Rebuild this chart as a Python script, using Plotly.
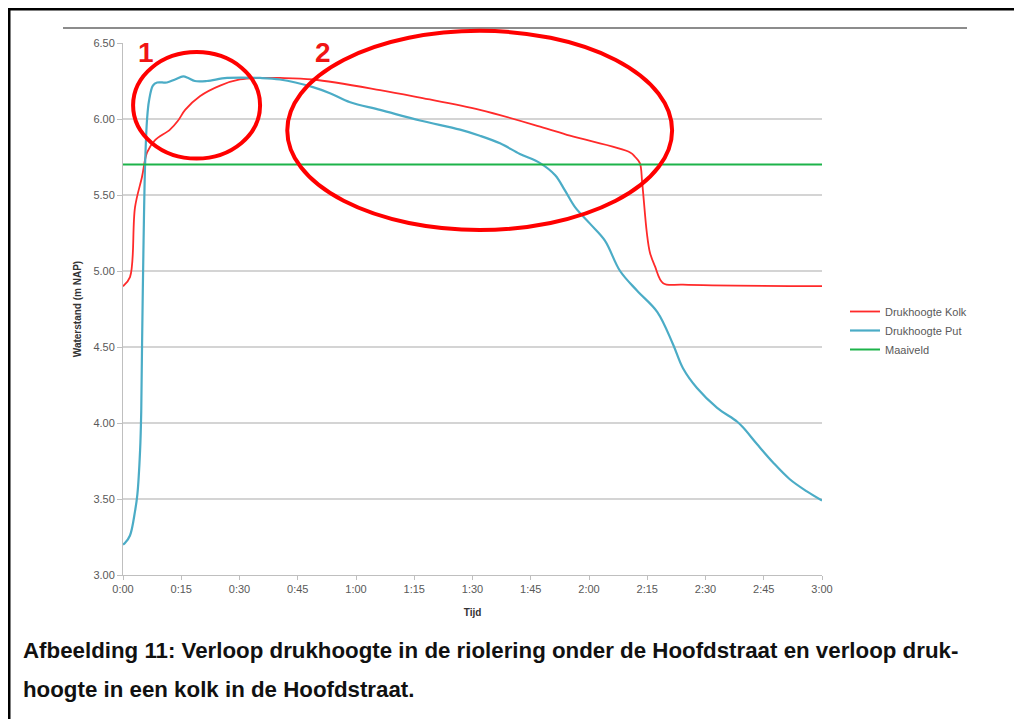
import plotly.graph_objects as go

# ---- data (time in minutes since 0:00, values in m NAP) ----
kolk_t = [0, 1.8, 3.1, 4.9, 6.2, 8.2, 12.1, 14.2, 16.0, 19.8, 25.0, 30.1, 35.3, 40.4, 48.9,
          66.2, 76.5, 91.9, 107.4, 115.1, 130.6, 131.9, 133.1, 133.7, 134.9, 135.7, 137.0,
          139.1, 144.2, 180]
kolk_v = [4.90, 4.96, 5.42, 5.62, 5.78, 5.86, 5.93, 5.99, 6.06, 6.15, 6.22, 6.26, 6.27, 6.27, 6.26,
          6.19, 6.14, 6.06, 5.95, 5.89, 5.78, 5.75, 5.71, 5.58, 5.25, 5.12, 5.03,
          4.92, 4.91, 4.90]

put_t = [0, 0.5, 1.8, 3.1, 3.7, 4.4, 4.7, 4.9, 5.3, 5.7, 6.2, 6.7, 7.7, 8.8, 11.3, 13.4, 15.5,
         16.8, 18.5, 21.6, 26.8, 35.3, 40.4, 48.9, 53.3, 58.5, 66.2, 76.5, 86.8, 91.9, 97.1,
         102.2, 107.4, 111.3, 113.8, 116.4, 120.3, 124.1, 128.0, 132.4, 137.6, 141.6, 144.2,
         147.8, 153.0, 158.1, 159.7, 163.3, 167.4, 171.7, 176.1, 180]
put_v = [3.20, 3.21, 3.26, 3.42, 3.53, 3.82, 4.08, 4.50, 5.20, 5.71, 6.00, 6.12, 6.22, 6.24, 6.24,
         6.26, 6.28, 6.27, 6.25, 6.25, 6.27, 6.27, 6.26, 6.21, 6.17, 6.11, 6.06, 5.99, 5.93,
         5.89, 5.84, 5.77, 5.71, 5.63, 5.53, 5.42, 5.31, 5.20, 5.00, 4.87, 4.73, 4.52, 4.36,
         4.23, 4.10, 4.01, 3.97, 3.86, 3.74, 3.63, 3.55, 3.49]

maaiveld_t = [0, 180]
maaiveld_v = [5.70, 5.70]

x_tickvals = [0, 15, 30, 45, 60, 75, 90, 105, 120, 135, 150, 165, 180]
x_ticktext = ["0:00", "0:15", "0:30", "0:45", "1:00", "1:15", "1:30", "1:45",
              "2:00", "2:15", "2:30", "2:45", "3:00"]
y_tickvals = [3.0, 3.5, 4.0, 4.5, 5.0, 5.5, 6.0, 6.5]
y_ticktext = ["3.00", "3.50", "4.00", "4.50", "5.00", "5.50", "6.00", "6.50"]

series_names = ["Drukhoogte Kolk", "Drukhoogte Put", "Maaiveld"]
caption_lines = [
    "Afbeelding 11: Verloop drukhoogte in de riolering onder de Hoofdstraat en verloop druk-",
    "hoogte in een kolk in de Hoofdstraat.",
]

# highlighted regions (time in minutes, values in m NAP)
ellipse1 = dict(t0=2.6, t1=35.3, v0=5.74, v1=6.44)
ellipse2 = dict(t0=42.3, t1=141.4, v0=5.27, v1=6.58)
labels = [("1", 5.9, 6.44), ("2", 51.5, 6.44)]

X_MIN, X_MAX = 0, 180
Y_MIN, Y_MAX = 3.0, 6.5

# plot area geometry (figure pixels; page has an 8px body margin)
PL, PT, PW, PH = 115, 35, 699, 532
FIG_W, FIG_H = 1006, 711
OFF = 8


def px(t):
    return (t - X_MIN) / (X_MAX - X_MIN)


def py(v):
    return (v - Y_MIN) / (Y_MAX - Y_MIN)


def pgx(p):  # page pixel x -> paper
    return (p - OFF - PL) / PW


def pgy(p):  # page pixel y -> paper
    return (PT + PH - (p - OFF)) / PH


RED = "#ff2a2a"
BLUE = "#4bacc6"
GREEN = "#1db34a"

fig = go.Figure()
fig.add_trace(go.Scatter(x=kolk_t, y=kolk_v, mode="lines", name=series_names[0],
                         line=dict(color=RED, width=1.8), line_shape="spline"))
fig.add_trace(go.Scatter(x=put_t, y=put_v, mode="lines", name=series_names[1],
                         line=dict(color=BLUE, width=2.2), line_shape="spline"))
fig.add_trace(go.Scatter(x=maaiveld_t, y=maaiveld_v, mode="lines", name=series_names[2],
                         line=dict(color=GREEN, width=2)))

shapes = []
# outer frame (top and left edges visible)
shapes.append(dict(type="line", xref="paper", yref="paper",
                   x0=pgx(8), x1=pgx(1030), y0=pgy(9), y1=pgy(9),
                   line=dict(color="black", width=3), layer="above"))
shapes.append(dict(type="line", xref="paper", yref="paper",
                   x0=pgx(9), x1=pgx(9), y0=pgy(8), y1=pgy(740),
                   line=dict(color="black", width=3), layer="above"))
# gray top line of embedded chart
shapes.append(dict(type="line", xref="paper", yref="paper",
                   x0=pgx(63), x1=pgx(967), y0=pgy(28), y1=pgy(28),
                   line=dict(color="#8c8c8c", width=2)))
for e in (ellipse1, ellipse2):
    shapes.append(dict(type="circle", xref="paper", yref="paper",
                       x0=px(e["t0"]), x1=px(e["t1"]), y0=py(e["v0"]), y1=py(e["v1"]),
                       line=dict(color="#ff0000", width=4), layer="above"))

annotations = []
for txt, t, v in labels:
    annotations.append(dict(text="<b>" + txt + "</b>", x=px(t), y=py(v), xref="paper", yref="paper",
                            xanchor="center", yanchor="middle", showarrow=False,
                            font=dict(family="Liberation Sans", size=28, color="#f01414")))
for i, line in enumerate(caption_lines):
    annotations.append(dict(text="<b>" + line + "</b>", x=pgx(21),
                            y=pgy(650 + 39 * i), xref="paper", yref="paper",
                            xanchor="left", yanchor="middle", showarrow=False,
                            font=dict(family="Liberation Sans", size=22.3, color="#111111")))

fig.update_layout(
    width=FIG_W, height=FIG_H,
    margin=dict(l=PL, r=FIG_W - PL - PW, t=PT, b=FIG_H - PT - PH),
    paper_bgcolor="white", plot_bgcolor="white",
    font=dict(family="Liberation Sans", color="#595959"),
    shapes=shapes, annotations=annotations,
    legend=dict(x=pgx(845), y=pgy(297), xanchor="left", yanchor="top",
                font=dict(size=11, color="#595959"), bgcolor="rgba(0,0,0,0)",
                itemwidth=30, tracegroupgap=0),
    showlegend=True,
)
fig.update_xaxes(range=[X_MIN, X_MAX], tickvals=x_tickvals, ticktext=x_ticktext,
                 showgrid=False, zeroline=False, showline=True, linecolor="#bfbfbf", linewidth=1,
                 ticks="outside", ticklen=4, tickcolor="#bfbfbf", tickfont=dict(size=11, color="#595959"),
                 title=dict(text="<b>Tijd</b>", font=dict(size=10, color="#333333"), standoff=14))
fig.update_yaxes(range=[Y_MIN, Y_MAX], tickvals=y_tickvals, ticktext=y_ticktext,
                 showgrid=True, gridcolor="#d4d4d4", gridwidth=1.5, zeroline=False,
                 showline=True, linecolor="#bfbfbf", linewidth=1,
                 ticks="outside", ticklen=5, tickcolor="#bfbfbf", tickfont=dict(size=11, color="#595959"),
                 title=dict(text="<b>Waterstand (m NAP)</b>", font=dict(size=10, color="#333333"), standoff=9))

fig.write_html("out.html")
